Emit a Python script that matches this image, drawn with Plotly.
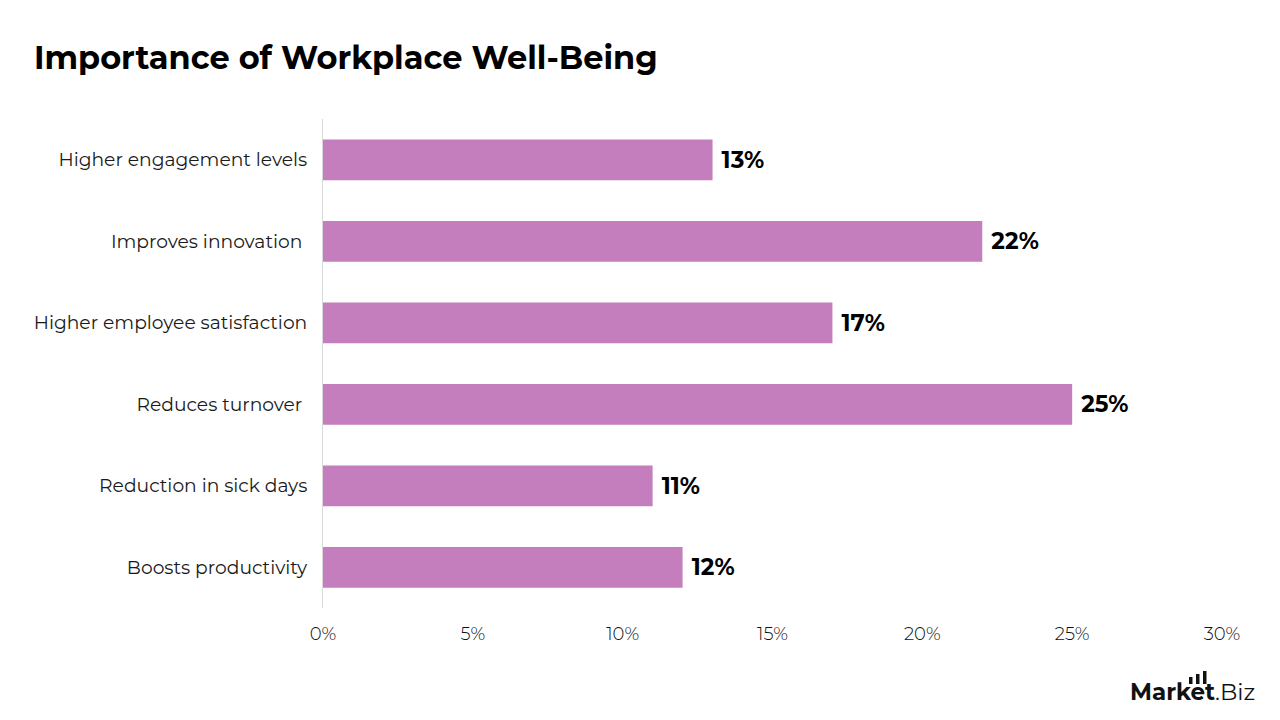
import plotly.graph_objects as go

categories = ["Higher engagement levels", "Improves innovation\u00a0", "Higher employee satisfaction",
              "Reduces turnover\u00a0", "Reduction in sick days", "Boosts productivity"]
values = [13, 22, 17, 25, 11, 12]
tick_vals = [0, 5, 10, 15, 20, 25, 30]
tick_text = ["0%", "5%", "10%", "15%", "20%", "25%", "30%"]

FONT = "Montserrat, Open Sans, sans-serif"

fig = go.Figure(go.Bar(
    x=values,
    y=categories,
    orientation="h",
    marker=dict(color="#C47EBD", line=dict(width=0)),
    text=[f"\u00a0<b>{v}%</b>" for v in values],
    textposition="outside",
    textfont=dict(size=23, color="#000000", family=FONT),
    cliponaxis=False,
    width=0.5,
))

L, R, T, B = 323, 1222, 119, 608
def px(pix):
    return (pix - L) / (R - L)
def py(pix):
    return (B - pix) / (B - T)

fig.update_layout(
    width=1280, height=720,
    paper_bgcolor="white", plot_bgcolor="white",
    margin=dict(l=L, r=1280 - R, t=T, b=720 - B),
    font=dict(family=FONT, color="#222222"),
    showlegend=False,
    title=dict(text="<b>Importance of Workplace Well-Being</b>", x=34/1280, xanchor="left",
               y=1-58/720, yanchor="middle", font=dict(size=32, color="#000000", family=FONT)),
    xaxis=dict(range=[0, 30], tickvals=tick_vals, ticktext=tick_text, showgrid=False,
               zeroline=False, showline=False, ticks="", ticklabelstandoff=13,
               tickfont=dict(size=18, color="#111111", weight=300)),
    yaxis=dict(categoryorder="array", categoryarray=categories[::-1], showgrid=False,
               showline=True, linecolor="#d9d9d9", linewidth=1, ticks="", ticklabelstandoff=11,
               tickfont=dict(size=18.7, color="#1a1a1a")),
    bargap=0.5,
)

fig.add_annotation(x=px(1257), y=py(692), xref="paper", yref="paper", xanchor="right", yanchor="middle",
                   text="<b>Market</b>.Biz", showarrow=False, font=dict(size=23, color="#111111", family=FONT))

# logo bars
for x0, top in [(1189, 677), (1196, 674), (1203, 671)]:
    fig.add_shape(type="rect", xref="paper", yref="paper",
                  x0=px(x0), x1=px(x0 + 3.5), y0=py(684), y1=py(top),
                  fillcolor="#111111", line=dict(width=0))

fig.write_html("out.html")
